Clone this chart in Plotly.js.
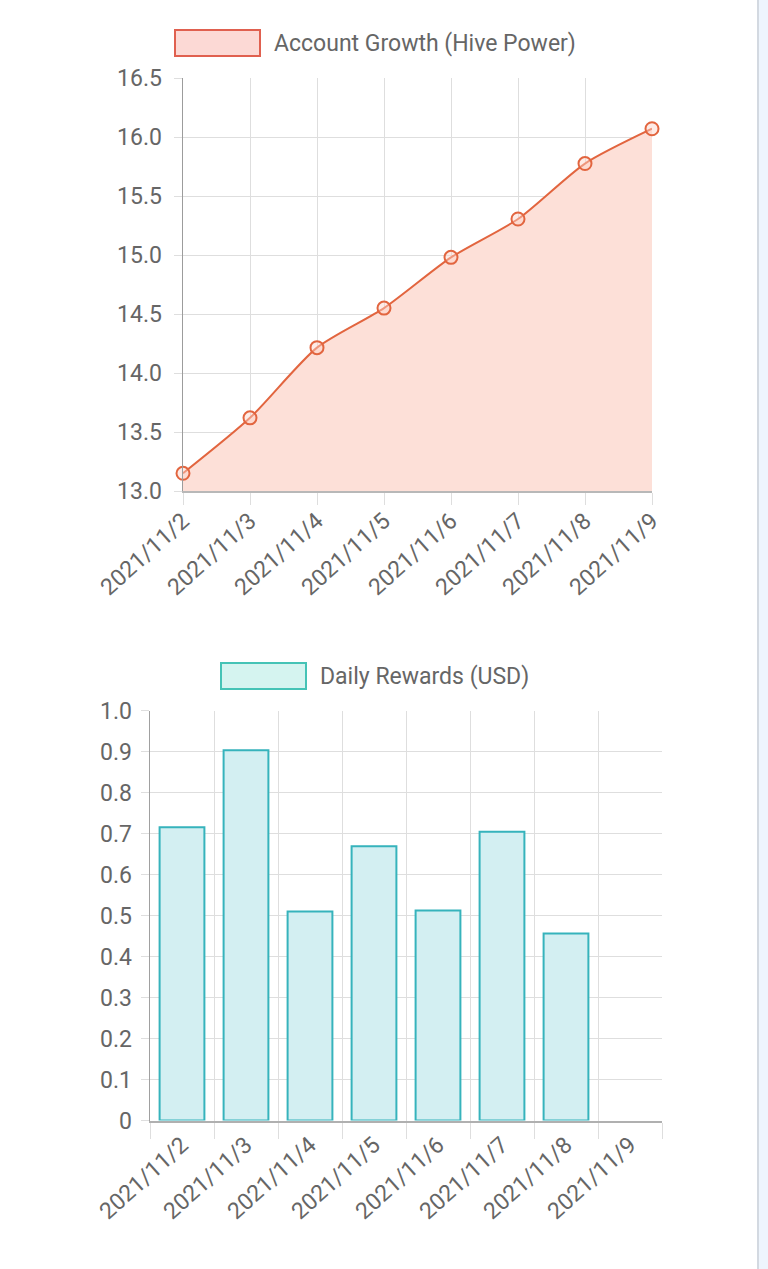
<!DOCTYPE html>
<html>
<head>
<meta charset="utf-8">
<script src="https://cdn.plot.ly/plotly-3.0.1.min.js"></script>
<style>
  html, body { margin: 0; padding: 0; background: #ffffff; }
  #chart { width: 768px; height: 1269px; }
</style>
</head>
<body>
<div id="chart"></div>
<script>
// ---- data ----
const dates = ["2021/11/2", "2021/11/3", "2021/11/4", "2021/11/5", "2021/11/6", "2021/11/7", "2021/11/8", "2021/11/9"];
const hivePower = [13.15, 13.62, 14.215, 14.55, 14.98, 15.305, 15.775, 16.07];
const dailyRewards = [0.715, 0.903, 0.51, 0.669, 0.512, 0.704, 0.456, null];
const growthLabel = "Account Growth (Hive Power)";
const rewardsLabel = "Daily Rewards (USD)";
const rewardTickVals = [0, 0.1, 0.2, 0.3, 0.4, 0.5, 0.6, 0.7, 0.8, 0.9, 1.0];
const rewardTickText = ["0", "0.1", "0.2", "0.3", "0.4", "0.5", "0.6", "0.7", "0.8", "0.9", "1.0"];

// ---- page geometry helpers (pixels -> paper) ----
const W = 768, H = 1269;
const px = v => v / W;
const py = v => 1 - v / H;

const FONT = "Roboto, 'Noto Sans', sans-serif";
const TXT = "#666666";
const GRID = "#dedede";
const FS = 23;

const lineTrace = {
  type: "scatter",
  mode: "lines+markers",
  x: dates,
  y: hivePower,
  xaxis: "x",
  yaxis: "y",
  line: { color: "#e2653f", width: 2, shape: "spline", smoothing: 0.7 },
  fill: "tozeroy",
  fillcolor: "#fde0d8",
  marker: { symbol: "circle", size: 13, color: "rgba(252,210,200,0.45)", line: { color: "#e2653f", width: 2 } },
  cliponaxis: false,
  hoverinfo: "x+y"
};

const barTrace = {
  type: "bar",
  x: dates,
  y: dailyRewards,
  xaxis: "x2",
  yaxis: "y2",
  marker: { color: "#d3eff2", line: { color: "#36b3bc", width: 2 } },
  hoverinfo: "x+y"
};

const tickFont = { family: FONT, size: FS, color: TXT };

const layout = {
  width: W,
  height: H,
  autosize: false,
  margin: { l: 0, r: 0, t: 0, b: 0, pad: 0 },
  paper_bgcolor: "#ffffff",
  plot_bgcolor: "#ffffff",
  showlegend: false,
  bargap: 0.3,
  font: { family: FONT, color: TXT, size: FS },
  xaxis: {
    domain: [px(183), px(652)],
    anchor: "y",
    type: "category",
    range: [0, 7],
    showgrid: true,
    gridcolor: GRID,
    gridwidth: 1,
    ticks: "outside",
    ticklen: 12,
    tickcolor: GRID,
    tickangle: -42,
    tickfont: tickFont,
    ticklabelstandoff: -6,
    showline: true,
    linecolor: "#b8b8b8",
    linewidth: 1.5,
    zeroline: false,
    fixedrange: true
  },
  yaxis: {
    domain: [py(491), py(78)],
    anchor: "x",
    range: [13, 16.5],
    dtick: 0.5,
    tick0: 13,
    tickformat: ".1f",
    showgrid: true,
    gridcolor: GRID,
    ticks: "outside",
    ticklen: 8,
    tickcolor: GRID,
    tickfont: tickFont,
    ticklabelstandoff: 7,
    showline: true,
    linecolor: "#9c9c9c",
    linewidth: 1.5,
    zeroline: false,
    fixedrange: true
  },
  xaxis2: {
    domain: [px(150), px(662)],
    anchor: "y2",
    type: "category",
    range: [-0.5, 7.5],
    tickson: "boundaries",
    showgrid: true,
    gridcolor: GRID,
    ticks: "outside",
    ticklen: 16,
    tickcolor: GRID,
    tickangle: -42,
    tickfont: tickFont,
    showline: true,
    linecolor: "#b0b0b0",
    linewidth: 2,
    zeroline: false,
    fixedrange: true
  },
  yaxis2: {
    domain: [py(1120.5), py(710.5)],
    anchor: "x2",
    range: [0, 1],
    tickmode: "array",
    tickvals: rewardTickVals,
    ticktext: rewardTickText,
    showgrid: true,
    gridcolor: GRID,
    ticks: "outside",
    ticklen: 8,
    tickcolor: GRID,
    tickfont: tickFont,
    ticklabelstandoff: 4,
    showline: true,
    linecolor: "#a0a0a0",
    linewidth: 1.5,
    zeroline: false,
    fixedrange: true
  },
  shapes: [
    // legend swatch, top chart
    { type: "rect", xref: "paper", yref: "paper", x0: px(175), x1: px(260), y0: py(56), y1: py(30),
      fillcolor: "#fcd9d5", line: { color: "#e0604f", width: 2 } },
    // legend swatch, bottom chart
    { type: "rect", xref: "paper", yref: "paper", x0: px(221), x1: px(306), y0: py(689), y1: py(663),
      fillcolor: "#d5f4f0", line: { color: "#45c3b6", width: 2 } },
    // right page edge strip
    { type: "rect", xref: "paper", yref: "paper", x0: px(759), x1: px(768), y0: 0, y1: 1,
      fillcolor: "#eef5fd", line: { width: 0 }, layer: "below" },
    { type: "line", xref: "paper", yref: "paper", x0: px(758), x1: px(758), y0: 0, y1: 1,
      line: { color: "#d3d9e1", width: 2 }, layer: "below" }
  ],
  annotations: [
    { xref: "paper", yref: "paper", x: px(272), y: py(43), xanchor: "left", yanchor: "middle",
      text: growthLabel, showarrow: false, font: { family: FONT, size: FS, color: TXT } },
    { xref: "paper", yref: "paper", x: px(318), y: py(676), xanchor: "left", yanchor: "middle",
      text: rewardsLabel, showarrow: false, font: { family: FONT, size: FS, color: TXT } }
  ]
};

Plotly.newPlot("chart", [lineTrace, barTrace], layout, { displayModeBar: false, staticPlot: true });
</script>
</body>
</html>
